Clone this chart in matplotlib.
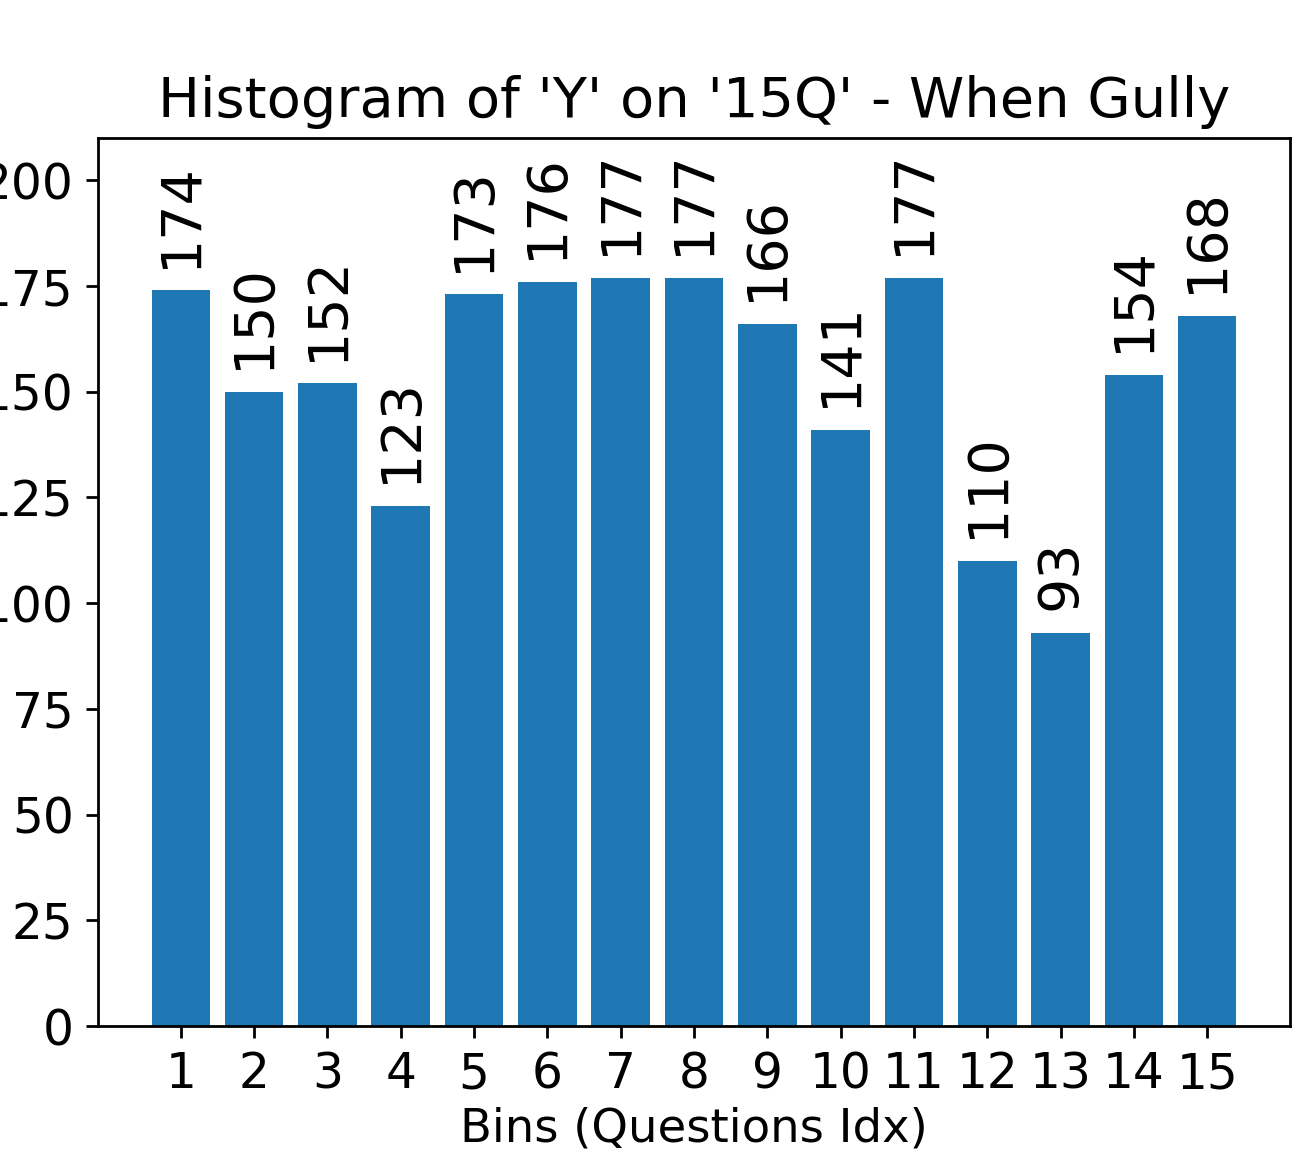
import numpy as np
import matplotlib
matplotlib.use("Agg")
import matplotlib.pyplot as plt

bins = list(range(1, 16))
counts = [174, 150, 152, 123, 173, 176, 177, 177, 166, 141, 177, 110, 93, 154, 168]

fig = plt.figure(figsize=(1302 / 250, 1153 / 250), dpi=250)
ax = fig.add_axes([98 / 1302, 1 - 1026 / 1153, (1290 - 98) / 1302, (1026 - 138) / 1153])

bars = ax.bar(bins, counts, width=0.8, color='#1f77b4')
ax.bar_label(bars, labels=[str(c) for c in counts], rotation=90, padding=6.5, fontsize=16)

ax.set_xlim(-0.13, 16.13)
ax.set_ylim(0, 210)
ax.set_xticks(bins)
ax.set_yticks(np.arange(0, 201, 25))
ax.tick_params(labelsize=14)
ax.set_xlabel('Bins (Questions Idx)', fontsize=13.4, labelpad=2.5)
ax.set_title("Histogram of 'Y' on '15Q' - When Gully", fontsize=16.1)

fig.savefig('out.png', dpi=250)
